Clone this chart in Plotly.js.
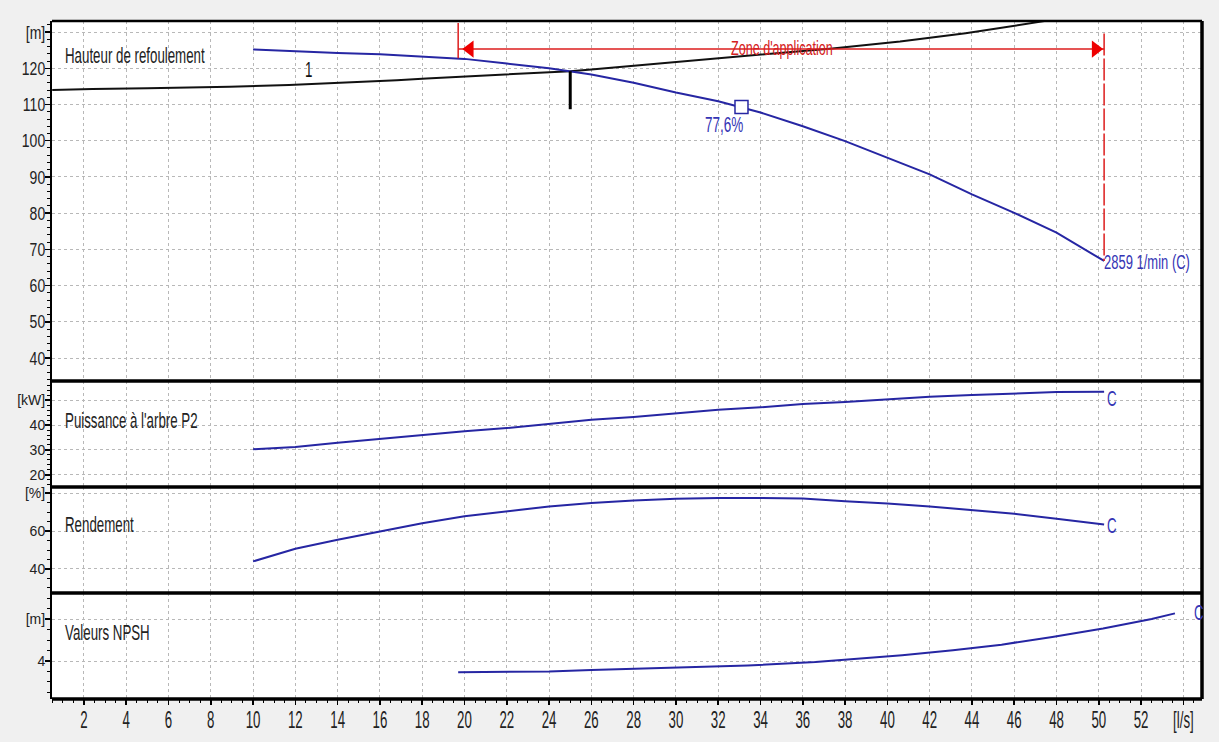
<!DOCTYPE html>
<html><head><meta charset="utf-8">
<script src="https://cdn.plot.ly/plotly-3.0.1.min.js"></script>
<style>html,body{margin:0;padding:0;background:#f0f0f0;} #chart{width:1219px;height:742px;}</style>
</head><body><div id="chart"></div>
<script>
// ---- data ----
const flowCurve = [10,12,14,16,18,20,22,24,26,28,30,32,34,36,38,40,42,44,46,48,50.25];
const headPump  = [125.2,124.6,124.2,123.9,123.3,122.6,121.3,120.0,118.3,116.0,113.3,110.9,107.8,104.0,99.9,95.3,90.7,85.2,80.1,74.6,66.8];
const powerP2   = [30.3,31.2,32.9,34.5,36.1,37.5,38.8,40.4,42.1,43.2,44.7,46.1,47.1,48.4,49.2,50.3,51.3,52.0,52.6,53.2,53.3];
const efficiency= [44.0,50.7,55.4,60.0,64.2,67.9,70.6,73.0,74.8,76.2,77.1,77.5,77.5,77.2,75.8,74.6,73.0,71.1,69.2,66.5,63.5];

const flowSystem = [0.5,2.4,5,8.9,11.7,14.6,16.8,18.2,20.4,21.9,23.5,25,26,27.6,29.1,32,34,37.4,40.6,43.7,47.5];
const headSystem = [114.0,114.3,114.5,114.9,115.4,116.1,116.7,117.2,117.8,118.3,118.8,119.2,119.7,120.5,121.2,122.6,123.7,125.5,127.4,129.7,133.1];

const flowNPSH = [19.7,22,24,26,28,30,33.4,36.6,38.4,40.7,43.1,45.4,47.8,50.2,52.5,53.6];
const npshValues = [3.47,3.48,3.5,3.57,3.62,3.68,3.79,3.95,4.08,4.27,4.51,4.78,5.15,5.55,6.0,6.27];

const dutyFlow = [25, 25];
const dutyHead = [119.2, 108.7];

const bepFlow = [33.1];
const bepHead = [109.3];
const bepLabel = '77,6%';

const zoneFlow = [19.7, 50.25];
const zoneHead = 125.3;
const zoneLeftHead = [132.5, 122.8];
const zoneRightHead = [129.6, 66.8];
const zoneArrowFlow = [20.25, 49.85];

const speedLabel = '2859 1/min (C)';
const curveLabel = 'C';
const systemLabel = '1';

const xTickVals = [2,4,6,8,10,12,14,16,18,20,22,24,26,28,30,32,34,36,38,40,42,44,46,48,50,52,54];
const xTickText = ['2','4','6','8','10','12','14','16','18','20','22','24','26','28','30','32','34','36','38','40','42','44','46','48','50','52','[l/s]'];
const headTickVals = [40,50,60,70,80,90,100,110,120,130];
const headTickText = ['40','50','60','70','80','90','100','110','120','[m]'];
const powerTickVals = [20,30,40,50];
const powerTickText = ['20','30','40','[kW]'];
const effTickVals = [40,60,80];
const effTickText = ['40','60','[%]'];
const npshTickVals = [4,6];
const npshTickText = ['4','[m]'];

const panelTitles = ['Hauteur de refoulement', "Puissance à l'arbre P2", 'Rendement', 'Valeurs NPSH'];

// ---- styling ----
const FONT = '"Liberation Sans", Arial, sans-serif';
const BLUE = '#2626a3';
const TBLUE = '#3535b5';
const RED = '#dd1c1c';
const GRID = '#b8b8b8';
const TXT = '#222222';

const traces = [
  {x: flowSystem, y: headSystem, xaxis:'x', yaxis:'y', mode:'lines', line:{color:'#111', width:2}},
  {x: flowCurve, y: headPump, xaxis:'x', yaxis:'y', mode:'lines', line:{color:BLUE, width:2}},
  {x: dutyFlow, y: dutyHead, xaxis:'x', yaxis:'y', mode:'lines', line:{color:'#000', width:3}},
  {x: [zoneFlow[0], zoneFlow[0]], y: zoneLeftHead, xaxis:'x', yaxis:'y', mode:'lines', line:{color:RED, width:1.5}},
  {x: [zoneFlow[1], zoneFlow[1]], y: zoneRightHead, xaxis:'x', yaxis:'y', mode:'lines', line:{color:RED, width:1.5, dash:'22px,3px'}},
  {x: zoneFlow, y: [zoneHead, zoneHead], xaxis:'x', yaxis:'y', mode:'lines', line:{color:RED, width:1.5}},
  {x: zoneArrowFlow, y: [zoneHead, zoneHead], xaxis:'x', yaxis:'y', mode:'markers',
   marker:{symbol:['triangle-left','triangle-right'], size:15, color:'#ee0000', line:{width:0}}},
  {x: bepFlow, y: bepHead, xaxis:'x', yaxis:'y', mode:'markers',
   marker:{symbol:'square', size:13, color:'#fff', line:{color:BLUE, width:1.5}}},
  {x: flowCurve, y: powerP2, xaxis:'x', yaxis:'y2', mode:'lines', line:{color:BLUE, width:2}},
  {x: flowCurve, y: efficiency, xaxis:'x', yaxis:'y3', mode:'lines', line:{color:BLUE, width:2}},
  {x: flowNPSH, y: npshValues, xaxis:'x', yaxis:'y4', mode:'lines', line:{color:BLUE, width:2}}
];

function yAxis(domain, range, tv, tt, minorStep) {
  return {
    domain: domain, range: range, anchor: 'x',
    tickmode: 'array', tickvals: tv, ticktext: tt,
    ticks: 'outside', ticklen: 5, tickwidth: 1.5, tickcolor: '#000',
    ticklabelstandoff: -3,
    tickfont: {family: FONT, size: 14, color: TXT},
    showline: true, linecolor: '#000', linewidth: 2,
    showgrid: true, gridcolor: GRID, gridwidth: 1, griddash: '3px,3px',
    zeroline: false, fixedrange: true,
    minor: {tickmode: 'linear', tick0: 0, dtick: minorStep, ticks: 'outside', ticklen: 3, tickwidth: 1, tickcolor: '#000', showgrid: false}
  };
}

const d1 = 0.469, d2 = 0.3127, d3 = 0.1563;

const ann = (x, y, yref, text, opts) => Object.assign({
  x: x, y: y, xref: 'x', yref: yref, text: text, showarrow: false,
  font: {family: FONT, size: 13.3, color: TXT}
}, opts || {});

const layout = {
  width: 1219, height: 742,
  margin: {l: 52, r: 17, t: 21, b: 43},
  paper_bgcolor: '#f0f0f0', plot_bgcolor: '#ffffff',
  showlegend: false,
  xaxis: {
    domain: [0, 1], range: [0.49, 54.88], anchor: 'y4',
    tickmode: 'array', tickvals: xTickVals, ticktext: xTickText,
    ticks: 'outside', ticklen: 5, tickwidth: 1.5, tickcolor: '#000',
    ticklabelstandoff: 4,
    tickfont: {family: FONT, size: 13.3, color: TXT},
    showline: false,
    showgrid: true, gridcolor: GRID, gridwidth: 1, griddash: '3px,3px',
    zeroline: false, fixedrange: true,
    minor: {tickmode: 'linear', tick0: 0, dtick: 0.5, ticks: 'outside', ticklen: 3, tickwidth: 1, tickcolor: '#000', showgrid: false}
  },
  yaxis: yAxis([d1, 1], [33.65, 133.06], headTickVals, headTickText, 2),
  yaxis2: yAxis([d2, d1], [15.2, 57.6], powerTickVals, powerTickText, 2),
  yaxis3: yAxis([d3, d2], [27.3, 83.3], effTickVals, effTickText, 5),
  yaxis4: yAxis([0, d3], [2.19, 7.24], npshTickVals, npshTickText, 0.5),
  shapes: [
    {type:'line', xref:'paper', yref:'paper', x0:0, x1:1, y0:1, y1:1, line:{color:'#000', width:2.5}},
    {type:'line', xref:'paper', yref:'paper', x0:0, x1:1, y0:d1, y1:d1, line:{color:'#000', width:3.5}},
    {type:'line', xref:'paper', yref:'paper', x0:0, x1:1, y0:d2, y1:d2, line:{color:'#000', width:3.5}},
    {type:'line', xref:'paper', yref:'paper', x0:0, x1:1, y0:d3, y1:d3, line:{color:'#000', width:3.5}},
    {type:'line', xref:'paper', yref:'paper', x0:0, x1:1, y0:0, y1:0, line:{color:'#000', width:3.5}},
    {type:'line', xref:'paper', yref:'paper', x0:1, x1:1, y0:0, y1:1, line:{color:'#000', width:3.5}}
  ],
  annotations: [
    ann(1.0, 123.4, 'y', panelTitles[0], {xanchor:'left'}),
    ann(1.0, 42.0, 'y2', panelTitles[1], {xanchor:'left'}),
    ann(1.0, 63.7, 'y3', panelTitles[2], {xanchor:'left'}),
    ann(1.0, 5.38, 'y4', panelTitles[3], {xanchor:'left'}),
    ann(12.6, 119.8, 'y', systemLabel, {font:{family:FONT, size:13.3, color:'#111'}}),
    ann(35.0, zoneHead, 'y', "Zone d'application", {font:{family:FONT, size:12.6, color:'#d42020'}}),
    ann(zoneFlow[1], 66.6, 'y', speedLabel, {xanchor:'left', xshift:-2, font:{family:FONT, size:13, color:TBLUE}}),
    ann(bepFlow[0], 104.6, 'y', bepLabel, {xanchor:'right', xshift:4, font:{family:FONT, size:13.5, color:TBLUE}}),
    ann(zoneFlow[1], 50.5, 'y2', curveLabel, {xanchor:'left', xshift:1, font:{family:FONT, size:13.3, color:TBLUE}}),
    ann(zoneFlow[1], 63.0, 'y3', curveLabel, {xanchor:'left', xshift:1, font:{family:FONT, size:13.3, color:TBLUE}}),
    ann(flowNPSH[flowNPSH.length-1], 6.3, 'y4', curveLabel, {xanchor:'left', xshift:17, font:{family:FONT, size:13.3, color:TBLUE}})
  ]
};

Plotly.newPlot('chart', traces, layout, {staticPlot: true, displayModeBar: false}).then(function (gd) {
  // the reference text is tall and narrow: stretch glyphs vertically about their own centre
  function stretch(sel, s) {
    gd.querySelectorAll(sel).forEach(function (el) {
      var b = el.getBBox();
      var cy = b.y + b.height / 2;
      var t = el.getAttribute('transform') || '';
      el.setAttribute('transform', t + ' translate(0,' + cy + ') scale(1,' + s + ') translate(0,' + (-cy) + ')');
    });
  }
  stretch('.xtick text', 1.75);
  stretch('.ytick text', 1.35);
  stretch('.annotation-text', 1.6);
});
</script>
</body></html>
